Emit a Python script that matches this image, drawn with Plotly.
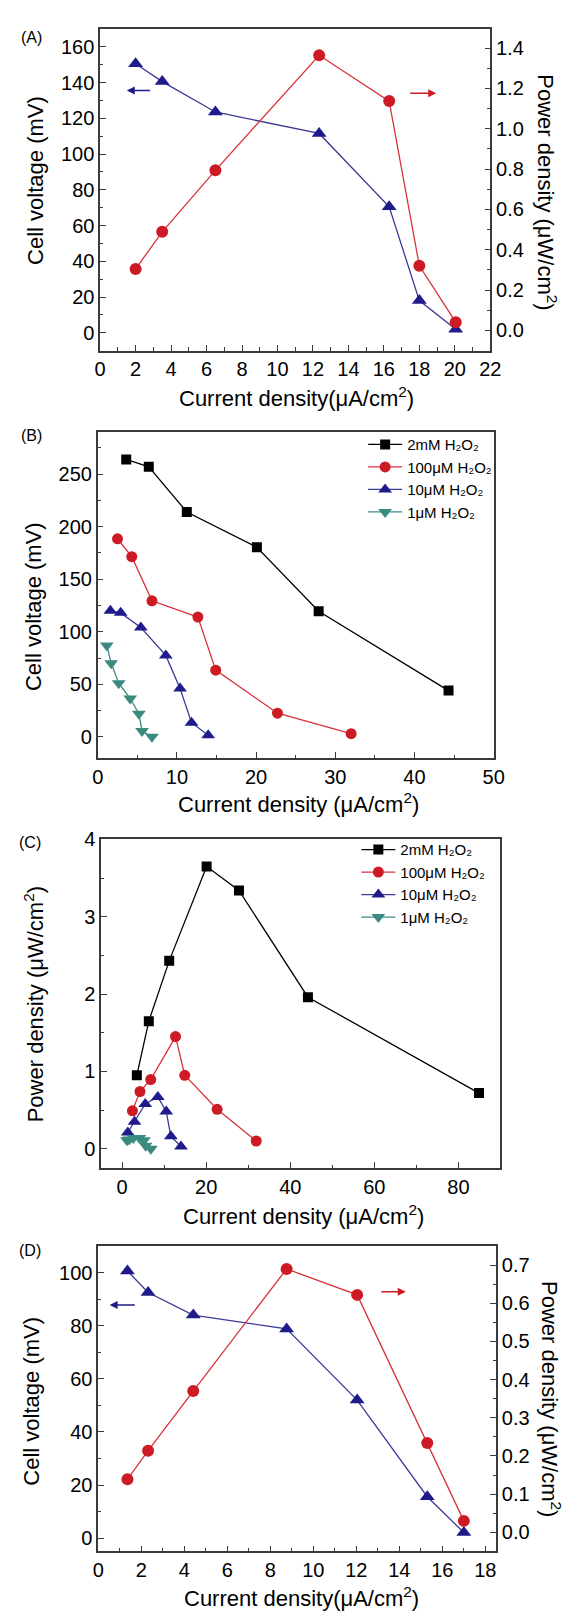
import plotly.graph_objects as go

W, H = 576, 1613

# ---------------- data ----------------
# Panel A
a_x = [2.0, 3.5, 6.5, 12.35, 16.3, 18.0, 20.05]
a_volt = [150.5, 140.5, 123.5, 111.5, 70.5, 18.0, 2.0]
a_power = [0.305, 0.489, 0.794, 1.364, 1.137, 0.321, 0.041]

# Panel B (cell voltage vs current density)
b_2mM_x = [3.6, 6.45, 11.25, 20.1, 27.9, 44.3]
b_2mM_y = [264, 257, 214, 180.5, 119.5, 44]
b_100uM_x = [2.5, 4.3, 6.85, 12.65, 14.9, 22.7, 32.0]
b_100uM_y = [188.5, 171.5, 129.5, 114, 63.5, 22.5, 3.0]
b_10uM_x = [1.6, 2.9, 5.45, 8.6, 10.4, 11.85, 13.95]
b_10uM_y = [120, 118, 104, 77.5, 46, 13.5, 1.5]
b_1uM_x = [1.15, 1.7, 2.65, 4.1, 5.2, 5.6, 6.85]
b_1uM_y = [87, 70, 51, 36.5, 22, 5.5, 0.0]

# Panel C (power density vs current density)
c_2mM_x = [3.5, 6.35, 11.2, 20.1, 27.8, 44.2, 84.9]
c_2mM_y = [0.95, 1.65, 2.43, 3.65, 3.34, 1.96, 0.72]
c_100uM_x = [2.45, 4.25, 6.8, 12.7, 14.9, 22.6, 31.9]
c_100uM_y = [0.49, 0.74, 0.895, 1.45, 0.95, 0.51, 0.10]
c_10uM_x = [1.35, 2.95, 5.5, 8.5, 10.5, 11.6, 14.0]
c_10uM_y = [0.21, 0.35, 0.58, 0.67, 0.48, 0.16, 0.03]
c_1uM_x = [1.15, 1.7, 2.65, 4.1, 5.2, 5.6, 6.85]
c_1uM_y = [0.11, 0.12, 0.14, 0.14, 0.11, 0.04, 0.0]

# Panel D
d_x = [1.36, 2.32, 4.42, 8.76, 12.04, 15.3, 17.0]
d_volt = [100.6, 92.5, 84.0, 78.8, 52.0, 15.6, 2.1]
d_power = [0.139, 0.214, 0.370, 0.690, 0.622, 0.234, 0.030]

legend_names = ["2mM H₂O₂", "100μM H₂O₂", "10μM H₂O₂", "1μM H₂O₂"]

# ---------------- styles ----------------
BLACK = "#000000"
RED = "#cc1b24"
RED_L = "#d8333a"
BLUE = "#1f1b8a"
BLUE_L = "#3a3a96"
TEAL = "#3a8a82"
AX = "#3a3a3a"
FONT = "Arial, Liberation Sans, Helvetica, sans-serif"


def dom_x(l, r):
    return [l / W, r / W]


def dom_y(t, b):
    return [1 - b / H, 1 - t / H]


def axis_style(**kw):
    minor_dtick = kw.pop("minor_dtick")
    d = dict(showline=True, linecolor=AX, linewidth=1.5, mirror=True,
             ticks="inside", ticklen=6, tickwidth=1.3, tickcolor=AX,
             showgrid=False, zeroline=False,
             tickfont=dict(family=FONT, size=20, color="black"),
             minor=dict(ticks="inside", ticklen=3.5, tickwidth=1.1, tickcolor=AX,
                        dtick=minor_dtick, showgrid=False))
    d.update(kw)
    return d


fig = go.Figure()


def add(x, y, xa, ya, color, lcolor, symbol, size, name=None, legend=None, show=False):
    fig.add_trace(go.Scatter(
        x=x, y=y, xaxis=xa, yaxis=ya, mode="lines+markers",
        line=dict(color=lcolor, width=1.3),
        marker=dict(symbol=symbol, size=size, color=color),
        name=name, showlegend=show, legend=legend))


# Panel A
add(a_x, a_volt, "x", "y", BLUE, BLUE_L, "triangle-up", 13)
add(a_x, a_power, "x", "y2", RED, RED_L, "circle", 12)

# Panel B
add(b_2mM_x, b_2mM_y, "x2", "y3", BLACK, BLACK, "square", 10, legend_names[0], "legend", True)
add(b_100uM_x, b_100uM_y, "x2", "y3", RED, RED_L, "circle", 11, legend_names[1], "legend", True)
add(b_10uM_x, b_10uM_y, "x2", "y3", BLUE, BLUE_L, "triangle-up", 12, legend_names[2], "legend", True)
add(b_1uM_x, b_1uM_y, "x2", "y3", TEAL, TEAL, "triangle-down", 12, legend_names[3], "legend", True)

# Panel C
add(c_2mM_x, c_2mM_y, "x3", "y4", BLACK, BLACK, "square", 10, legend_names[0], "legend2", True)
add(c_100uM_x, c_100uM_y, "x3", "y4", RED, RED_L, "circle", 11, legend_names[1], "legend2", True)
add(c_10uM_x, c_10uM_y, "x3", "y4", BLUE, BLUE_L, "triangle-up", 12, legend_names[2], "legend2", True)
add(c_1uM_x, c_1uM_y, "x3", "y4", TEAL, TEAL, "triangle-down", 12, legend_names[3], "legend2", True)

# Panel D
add(d_x, d_volt, "x4", "y5", BLUE, BLUE_L, "triangle-up", 13)
add(d_x, d_power, "x4", "y6", RED, RED_L, "circle", 12)

legend_common = dict(bgcolor="rgba(0,0,0,0)", borderwidth=0,
                     font=dict(family=FONT, size=15, color="black"),
                     xanchor="left", yanchor="top", itemwidth=34,
                     tracegroupgap=0)

fig.update_layout(
    width=W, height=H, autosize=False,
    margin=dict(l=0, r=0, t=0, b=0),
    paper_bgcolor="white", plot_bgcolor="white",
    font=dict(family=FONT, color="black"),
    # Panel A
    xaxis=axis_style(domain=dom_x(97, 499), anchor="y", range=[0, 22], dtick=2, tick0=0, minor_dtick=1),
    yaxis=axis_style(domain=dom_y(18, 342), anchor="x", range=[-10, 170], dtick=20, tick0=0, minor_dtick=10),
    yaxis2=axis_style(domain=dom_y(18, 342), anchor="x", overlaying="y", side="right",
                      range=[-0.1, 1.495], dtick=0.2, tick0=0, tickformat=".1f", minor_dtick=0.1, mirror=False),
    # Panel B
    xaxis2=axis_style(domain=dom_x(94.5, 502.5), anchor="y3", range=[0, 50], dtick=10, tick0=0, minor_dtick=5),
    yaxis3=axis_style(domain=dom_y(424, 752), anchor="x2", range=[-20, 290], dtick=50, tick0=0, minor_dtick=25),
    # Panel C
    xaxis3=axis_style(domain=dom_x(98, 509.5), anchor="y4", range=[-5, 90], dtick=20, tick0=0, minor_dtick=10),
    yaxis4=axis_style(domain=dom_y(834, 1165), anchor="x3", range=[-0.25, 4.002], dtick=1, tick0=0, minor_dtick=0.5),
    # Panel D
    xaxis4=axis_style(domain=dom_x(95, 505), anchor="y5", range=[0, 18.5], dtick=2, tick0=0, minor_dtick=1),
    yaxis5=axis_style(domain=dom_y(1243.5, 1551), anchor="x4", range=[-5, 110], dtick=20, tick0=0, minor_dtick=10),
    yaxis6=axis_style(domain=dom_y(1243.5, 1551), anchor="x4", overlaying="y5", side="right",
                      range=[-0.05, 0.75], dtick=0.1, tick0=0, tickformat=".1f", minor_dtick=0.05, mirror=False),
    legend=dict(x=368 / W, y=1 - 420 / H, **legend_common),
    legend2=dict(x=361 / W, y=1 - 828 / H, **legend_common),
)

# ---------------- text annotations ----------------
def txt(text, px, py, size=22, angle=0):
    fig.add_annotation(text=text, x=px / W, y=1 - py / H, xref="paper", yref="paper",
                       showarrow=False, xanchor="center", yanchor="middle",
                       textangle=angle, font=dict(family=FONT, size=size, color="black"))


# panel labels
txt("(A)", 26, 27, 16)
txt("(B)", 26, 427, 16)
txt("(C)", 25, 837, 16)
txt("(D)", 25, 1248, 16)

# axis titles
txt("Cell voltage (mV)", 31, 171, 22, -90)
txt("Power density (μW/cm<sup>2</sup>)", 558, 182, 22, 90)
txt("Current density(μA/cm<sup>2</sup>)", 299, 389, 22)

txt("Cell voltage (mV)", 29, 600, 22, -90)
txt("Current density (μA/cm<sup>2</sup>)", 301, 797, 22)

txt("Power density (μW/cm<sup>2</sup>)", 29, 1000, 22, -90)
txt("Current density (μA/cm<sup>2</sup>)", 307, 1212, 22)

txt("Cell voltage (mV)", 26, 1400, 22, -90)
txt("Power density (μW/cm<sup>2</sup>)", 561, 1398, 22, 90)
txt("Current density(μA/cm<sup>2</sup>)", 305, 1597, 22)


# direction arrows
def arrow(xh, yh, xt, yt, xref, yref, color):
    fig.add_annotation(x=xh, y=yh, ax=xt, ay=yt, xref=xref, yref=yref,
                       axref=xref, ayref=yref, text="", showarrow=True,
                       arrowhead=2, arrowsize=1, arrowwidth=1.6, arrowcolor=color)


arrow(1.5, 135.5, 2.9, 135.5, "x", "y", BLUE)
arrow(18.95, 134, 17.4, 134, "x", "y", RED)
arrow(0.53, 87.8, 1.77, 87.8, "x4", "y5", BLUE)
arrow(14.3, 92.8, 13.1, 92.8, "x4", "y5", RED)

fig.write_html("out.html", config={"displayModeBar": False},
               post_script="document.body.style.margin='0';document.body.style.overflow='hidden';")
